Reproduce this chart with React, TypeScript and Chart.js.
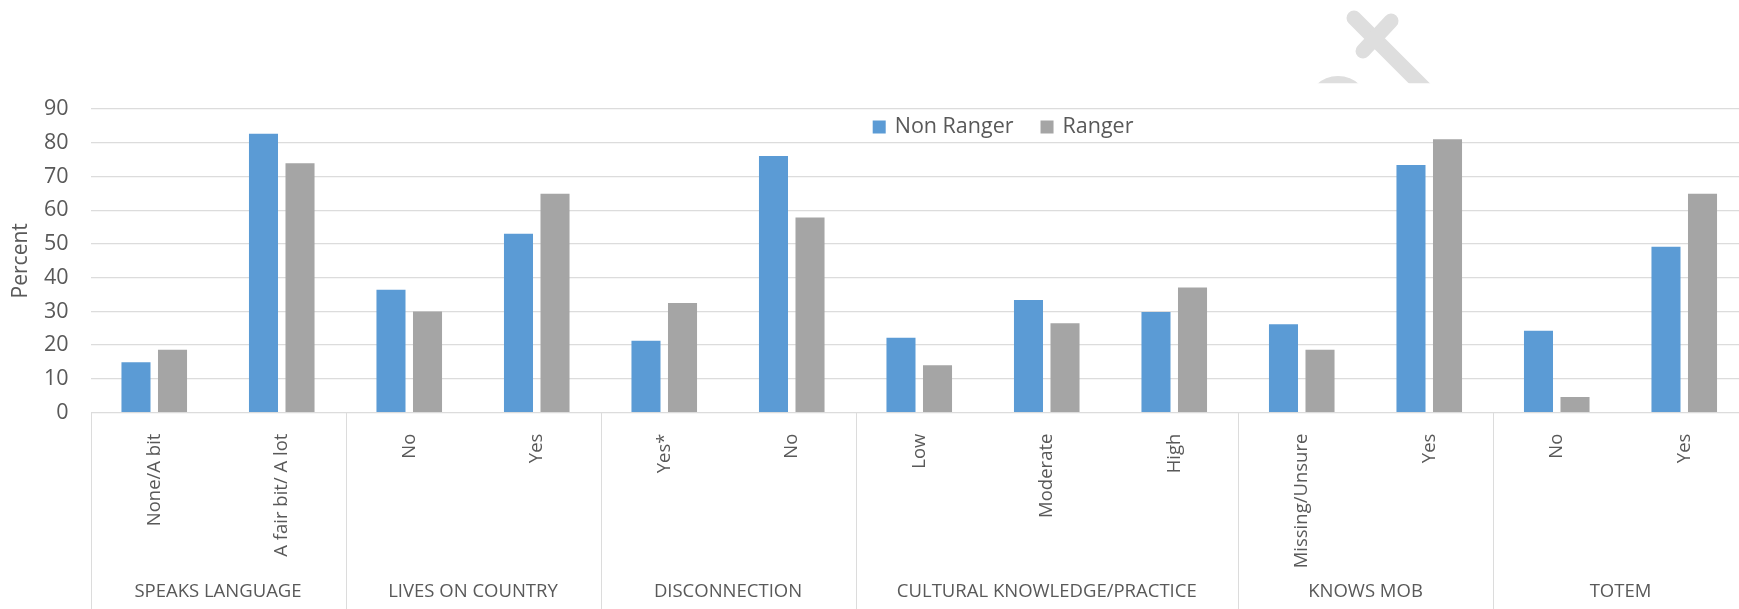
import React, { useEffect, useRef } from "react";
import { Chart, registerables } from "chart.js";

Chart.register(...registerables);

// Category axis: top-level groups and how many sub-categories each holds
const groups = [
  "SPEAKS LANGUAGE",
  "LIVES ON COUNTRY",
  "DISCONNECTION",
  "CULTURAL KNOWLEDGE/PRACTICE",
  "KNOWS MOB",
  "TOTEM",
];
const groupSizes = [2, 2, 2, 3, 2, 2];

const categories = [
  "None/A bit",
  "A fair bit/ A lot",
  "No",
  "Yes",
  "Yes*",
  "No",
  "Low",
  "Moderate",
  "High",
  "Missing/Unsure",
  "Yes",
  "No",
  "Yes",
];

// Percent of respondents
const nonRanger = [14.9, 82.7, 36.4, 53.0, 21.3, 76.1, 22.2, 33.4, 29.8, 26.2, 73.4, 24.3, 49.2];
const ranger = [18.6, 73.9, 30.0, 64.9, 32.5, 57.8, 14.0, 26.5, 37.1, 18.6, 81.0, 4.6, 64.9];

const yTicks = [0, 10, 20, 30, 40, 50, 60, 70, 80, 90];

const FONT = '"Open Sans", "Noto Sans", sans-serif';
const TEXT = "#595959";
const GRID = "#dcdcdc";

// Faint logo mark in the top margin, partly hidden behind the plot panel
const logoPlugin = {
  id: "logoMark",
  beforeDraw(chart: any) {
    const ctx = chart.ctx;
    ctx.save();
    ctx.beginPath();
    ctx.rect(0, 0, chart.width, 83.3);
    ctx.clip();
    ctx.strokeStyle = "#dedede";
    ctx.fillStyle = "#dedede";
    ctx.lineCap = "round";
    ctx.lineWidth = 15;
    ctx.beginPath();
    ctx.moveTo(1354, 18);
    ctx.lineTo(1445, 109);
    ctx.stroke();
    ctx.beginPath();
    ctx.moveTo(1391, 21);
    ctx.lineTo(1363, 51);
    ctx.stroke();
    ctx.beginPath();
    ctx.arc(1338, 107, 31, 0, Math.PI * 2);
    ctx.fill();
    ctx.restore();
  },
};

// Group dividers and group captions under the rotated category labels
const groupAxisPlugin = {
  id: "groupAxis",
  afterDraw(chart: any) {
    const ctx = chart.ctx;
    const xs = chart.scales.x;
    const area = chart.chartArea;
    const half = (xs.getPixelForValue(1) - xs.getPixelForValue(0)) / 2;
    ctx.save();
    ctx.strokeStyle = GRID;
    ctx.lineWidth = 1;
    const vline = (px: number) => {
      const x = Math.round(px) + 0.5;
      ctx.beginPath();
      ctx.moveTo(x, area.bottom);
      ctx.lineTo(x, chart.height);
      ctx.stroke();
    };
    vline(xs.getPixelForValue(0) - half);
    ctx.fillStyle = TEXT;
    ctx.font = `18.5px ${FONT}`;
    ctx.textAlign = "center";
    ctx.textBaseline = "middle";
    let idx = 0;
    groups.forEach((g, gi) => {
      const first = idx;
      const last = idx + groupSizes[gi] - 1;
      const left = xs.getPixelForValue(first) - half;
      const right = xs.getPixelForValue(last) + half;
      vline(right);
      ctx.fillText(g, (left + right) / 2, 591.5);
      idx += groupSizes[gi];
    });
    ctx.restore();
  },
};

// Legend placed inside the plot, near the top
const innerLegendPlugin = {
  id: "innerLegend",
  afterDraw(chart: any) {
    const ctx = chart.ctx;
    ctx.save();
    ctx.font = `21.5px ${FONT}`;
    ctx.textBaseline = "middle";
    ctx.textAlign = "left";
    let x = 872.7;
    const boxTop = 120.5;
    chart.data.datasets.forEach((ds: any) => {
      ctx.fillStyle = ds.backgroundColor;
      ctx.fillRect(x, boxTop, 13, 13);
      ctx.fillStyle = TEXT;
      ctx.fillText(ds.label, x + 22, boxTop + 6);
      x += 22 + ctx.measureText(ds.label).width + 27;
    });
    ctx.restore();
  },
};

export default function App() {
  const canvasRef = useRef<HTMLCanvasElement | null>(null);

  useEffect(() => {
    if (!canvasRef.current) return;
    const chart = new Chart(canvasRef.current, {
      type: "bar",
      data: {
        labels: categories,
        datasets: [
          {
            label: "Non Ranger",
            data: nonRanger,
            backgroundColor: "#5B9BD5",
            borderWidth: 0,
            categoryPercentage: 0.573,
            barPercentage: 0.795,
          },
          {
            label: "Ranger",
            data: ranger,
            backgroundColor: "#A5A5A5",
            borderWidth: 0,
            categoryPercentage: 0.573,
            barPercentage: 0.795,
          },
        ],
      },
      options: {
        responsive: false,
        animation: false,
        events: [],
        layout: { padding: { top: 109, left: 0, right: 0, bottom: 0 } },
        plugins: {
          legend: { display: false },
          tooltip: { enabled: false },
        },
        scales: {
          x: {
            grid: { display: false },
            border: { display: false },
            ticks: {
              autoSkip: false,
              minRotation: 90,
              maxRotation: 90,
              padding: 13,
              color: TEXT,
              font: { family: FONT, size: 18.5 },
            },
            afterFit: (scale: any) => {
              scale.height = 196.4;
            },
          },
          y: {
            min: 0,
            max: 90,
            afterBuildTicks: (scale: any) => {
              scale.ticks = yTicks.map((v) => ({ value: v }));
            },
            grid: { color: GRID, lineWidth: 1.3, drawTicks: false },
            border: { display: false },
            ticks: {
              padding: 22,
              color: TEXT,
              font: { family: FONT, size: 21.5 },
            },
            title: {
              display: true,
              text: "Percent",
              color: TEXT,
              font: { family: FONT, size: 21 },
              padding: { top: 8, bottom: 0 },
            },
            afterFit: (scale: any) => {
              scale.width = 90.5;
            },
          },
        },
      },
      plugins: [logoPlugin, groupAxisPlugin, innerLegendPlugin],
    });
    return () => chart.destroy();
  }, []);

  return (
    <div
      style={{
        position: "fixed",
        left: 0,
        top: 0,
        width: 1739,
        height: 609,
        overflow: "hidden",
        background: "#ffffff",
      }}
    >
      <canvas ref={canvasRef} width={1748} height={609} style={{ display: "block" }} />
    </div>
  );
}
